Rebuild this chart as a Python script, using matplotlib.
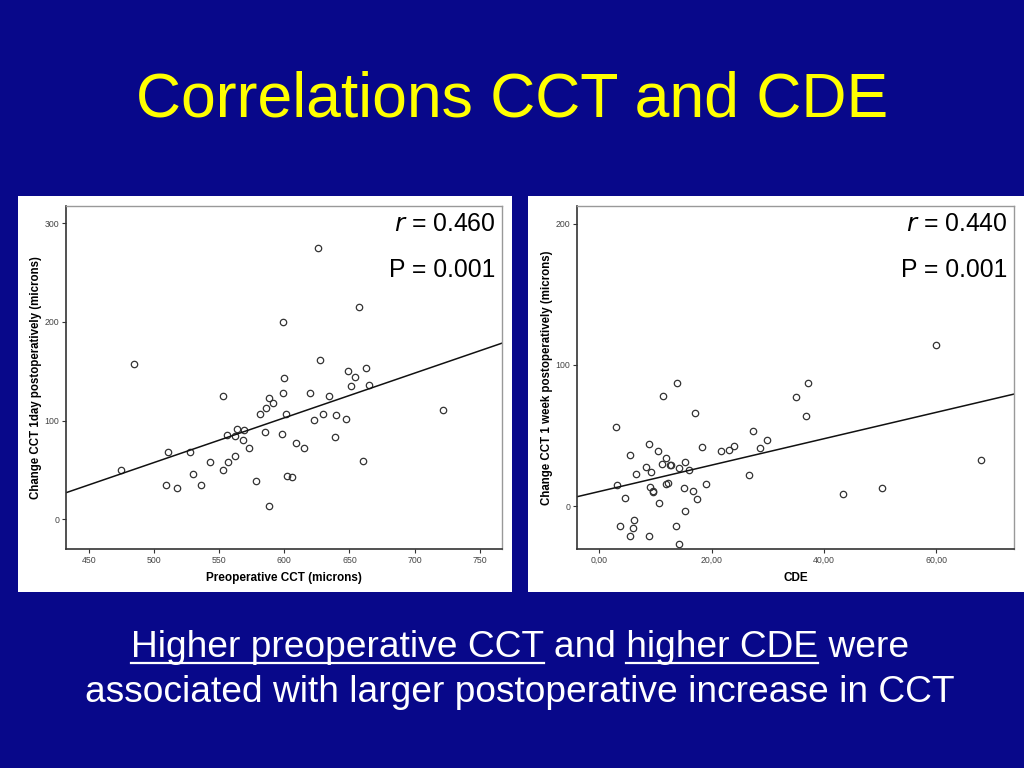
import numpy as np
import matplotlib
matplotlib.use("Agg")
from matplotlib import pyplot as plt
from matplotlib.patches import Rectangle
from matplotlib.lines import Line2D

plt.rcParams['font.family'] = ['Liberation Sans', 'DejaVu Sans']

# left chart: preoperative CCT vs change in CCT at 1 day
pre_cct = [485, 475, 511, 509, 528, 530, 518, 536, 543, 553, 553, 556, 557, 562, 562,
           564, 568, 569, 573, 578, 581, 585, 586, 588, 588, 591, 600, 599, 601, 598,
           609, 602, 606, 599, 626, 657, 627, 649, 654, 663, 651, 665, 620, 634, 623,
           630, 640, 647, 639, 615, 660, 722]
change_1day = [157, 50, 68, 35, 68, 46, 32, 35, 58, 125, 50, 85, 58, 64, 84,
               92, 80, 91, 72, 39, 107, 89, 113, 123, 14, 118, 143, 128, 107, 87,
               77, 44, 43, 200, 275, 215, 161, 150, 144, 153, 135, 136, 128, 125, 101,
               107, 106, 102, 83, 72, 59, 111]
fit_left = (0.453, -168.9)
stats_left = ("0.460", "0.001")

# right chart: CDE vs change in CCT at 1 week
cde = [11.3, 17.1, 3.0, 8.9, 10.5, 5.4, 18.3, 21.7, 23.1, 24.0, 27.3, 29.8, 28.6,
       11.8, 11.1, 15.2, 12.7, 12.5, 8.3, 9.2, 14.2, 15.9, 6.5, 19.0, 11.9, 12.3,
       3.1, 9.1, 9.6, 9.5, 15.1, 16.7, 4.5, 17.4, 10.7, 15.2, 6.1, 6.0, 3.7, 13.6,
       5.5, 8.8, 14.1, 26.6, 13.8, 35.1, 37.2, 36.8, 60.0, 43.5, 50.3, 68.0]
change_1week = [78, 66, 56, 44, 39, 36, 42, 39, 40, 43, 53, 47, 41,
                34, 30, 31, 29, 29, 28, 24, 27, 26, 23, 16, 16, 16.5,
                15, 14, 10, 11, 13, 11, 6, 5, 2, -3, -10, -15, -14, -14,
                -21, -21, -27, 22, 87, 77, 87, 64, 114, 9, 13, 33]
fit_right = (0.932, 10.5)
stats_right = ("0.440", "0.001")

bg = '#08088a'
fig = plt.figure(figsize=(10.24, 7.68), dpi=100, facecolor=bg)
W, H = 1024, 768


def px_box(x0, y0, x1, y1):
    return [x0 / W, 1 - y1 / H, (x1 - x0) / W, (y1 - y0) / H]


# white panels behind the charts
for b in [px_box(18, 196, 512, 592), px_box(528, 196, 1024, 592)]:
    fig.patches.append(Rectangle((b[0], b[1]), b[2], b[3], transform=fig.transFigure,
                                 facecolor='white', edgecolor='none', zorder=-5))


def scatter_panel(rect, x, y, fit, stats, xlim, ylim, xticks, xlabels, yticks,
                  xlabel, ylabel, stat_x):
    ax = fig.add_axes(rect)
    ax.set_facecolor('white')
    ax.plot(x, y, 'o', mfc='none', mec='#333333', ms=4.6, mew=0.9)
    xs = np.array(xlim)
    ax.plot(xs, fit[0] * xs + fit[1], color='#111111', lw=1.1)
    ax.set_xlim(xlim)
    ax.set_ylim(ylim)
    ax.set_xticks(xticks)
    ax.set_xticklabels(xlabels)
    ax.set_yticks(yticks)
    ax.tick_params(direction='out', length=3, width=0.8, labelsize=6.3,
                   labelcolor='#444444', color='#333333', pad=2)
    for s in ['left', 'bottom']:
        ax.spines[s].set_color('#333333')
        ax.spines[s].set_linewidth(1.2)
    for s in ['top', 'right']:
        ax.spines[s].set_color('#999999')
        ax.spines[s].set_linewidth(1.0)
    ax.set_xlabel(xlabel, fontsize=8.5, fontweight='bold', labelpad=5)
    ax.set_ylabel(ylabel, fontsize=8.3, fontweight='bold', labelpad=2)
    fig.text(stat_x / W, 1 - 224 / H, r"$\it{r}$ = " + stats[0], ha='right',
             va='center', fontsize=17.8, color='black')
    fig.text(stat_x / W, 1 - 270 / H, "P = " + stats[1], ha='right',
             va='center', fontsize=17.8, color='black')
    return ax


scatter_panel(px_box(66, 206, 502, 549), pre_cct, change_1day, fit_left, stats_left,
              (432.5, 767), (-30, 317.5), [450, 500, 550, 600, 650, 700, 750],
              ['450', '500', '550', '600', '650', '700', '750'], [0, 100, 200, 300],
              'Preoperative CCT (microns)',
              'Change CCT 1day postoperatively (microns)', 495)

scatter_panel(px_box(577, 206, 1014, 549), cde, change_1week, fit_right, stats_right,
              (-4, 73.9), (-30.2, 212.4), [0, 20, 40, 60],
              ['0,00', '20,00', '40,00', '60,00'], [0, 100, 200],
              'CDE', 'Change CCT 1 week postoperatively (microns)', 1007)

# title
fig.text(0.5, 1 - 100 / H, "Correlations CCT and CDE", ha='center', va='center',
         fontsize=45, color='#ffff00')

# bottom caption with underlined parts
line1 = "Higher preoperative CCT and higher CDE were"
line2 = "associated with larger postoperative increase in CCT"
cap_size = 26.7
cap_x = 520 / W
cap_kw = dict(fontsize=cap_size, color='white', ha='center', va='baseline')
t1 = fig.text(cap_x, 1 - 657 / H, line1, **cap_kw)
fig.text(cap_x, 1 - 702 / H, line2, **cap_kw)

fig.canvas.draw()
rend = fig.canvas.get_renderer()
full = t1.get_window_extent(rend)


def text_width(s):
    tmp = fig.text(0, 0, s, fontsize=cap_size)
    w = tmp.get_window_extent(rend).width
    tmp.remove()
    return w


for part in ["Higher preoperative CCT", "higher CDE"]:
    start = line1.index(part)
    x0 = full.x0 + text_width(line1[:start]) if start else full.x0
    x1 = full.x0 + text_width(line1[:start + len(part)])
    yline = 1 - 663 / H
    fig.lines.append(Line2D([x0 / W, x1 / W], [yline, yline], transform=fig.transFigure,
                            color='white', lw=1.6))

fig.savefig("out.png", dpi=100, facecolor=bg)
